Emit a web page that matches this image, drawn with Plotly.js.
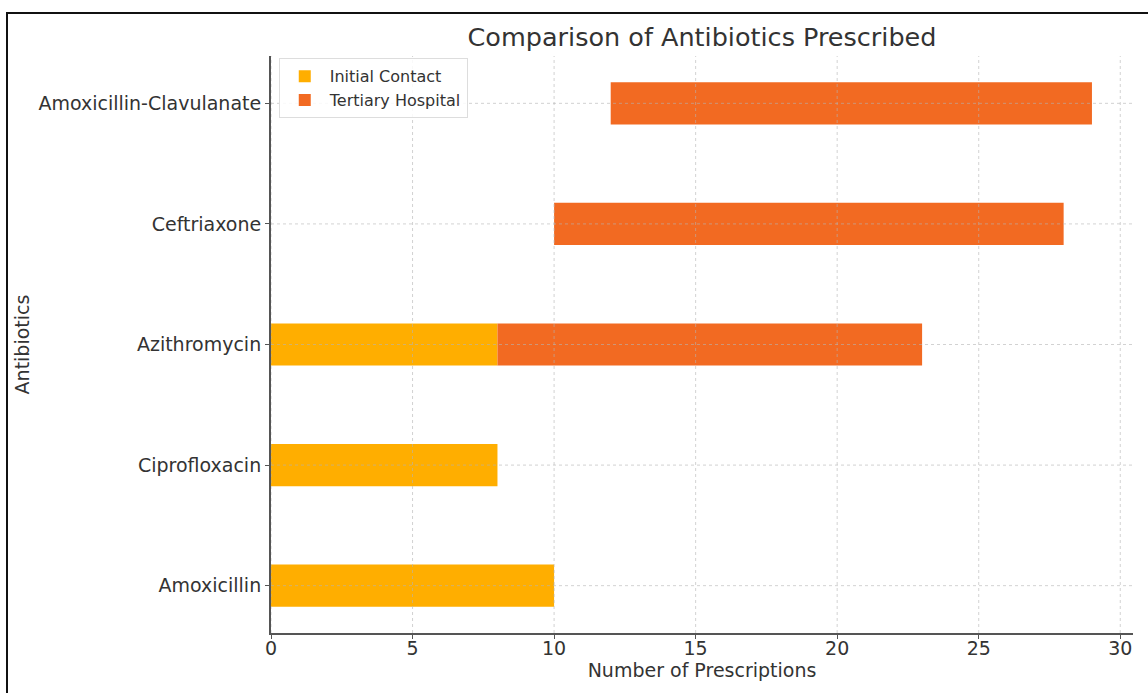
<!DOCTYPE html>
<html>
<head>
<meta charset="utf-8">
<script src="https://cdn.plot.ly/plotly-3.0.1.min.js"></script>
<style>
  html, body { margin: 0; padding: 0; background: #fff; }
  #chart { width: 1148px; height: 693px; position: absolute; left: 0; top: 0; }
  #frame { position: absolute; left: 6px; top: 12px; width: 1148px; height: 700px;
           border-left: 2px solid #111; border-top: 2px solid #111; pointer-events: none; }
</style>
</head>
<body>
<div id="chart"></div>
<div id="frame"></div>
<script>
const categories = ["Amoxicillin", "Ciprofloxacin", "Azithromycin", "Ceftriaxone", "Amoxicillin-Clavulanate"];
const initialContact = [10, 8, 8, 0, 0];
const tertiaryStart = [0, 0, 8, 10, 12];
const tertiaryHospital = [0, 0, 15, 18, 17];
const xTicks = [0, 5, 10, 15, 20, 25, 30];

const font = "DejaVu Sans, sans-serif";
const gridShapes = [];
xTicks.forEach(v => gridShapes.push({
  type: "line", xref: "x", yref: "paper", x0: v, x1: v, y0: 0, y1: 1,
  line: { color: "rgba(180,180,180,0.6)", width: 1, dash: "dot" }, layer: "above"
}));
categories.forEach(c => gridShapes.push({
  type: "line", xref: "paper", yref: "y", x0: 0, x1: 1, y0: c, y1: c,
  line: { color: "rgba(180,180,180,0.6)", width: 1, dash: "dot" }, layer: "above"
}));

const data = [
  {
    type: "bar", orientation: "h", name: "Initial Contact",
    y: categories, x: initialContact, width: 0.35,
    marker: { color: "#FFAE00", line: { width: 0 } }
  },
  {
    type: "bar", orientation: "h", name: "Tertiary Hospital",
    y: categories, x: tertiaryHospital, base: tertiaryStart, width: 0.35,
    marker: { color: "#F26A22", line: { width: 0 } }
  }
];

const layout = {
  width: 1148, height: 693,
  margin: { l: 271, r: 15, t: 56, b: 60 },
  paper_bgcolor: "rgba(0,0,0,0)", plot_bgcolor: "rgba(0,0,0,0)",
  barmode: "overlay",
  showlegend: true,
  font: { family: font, color: "#333" },
  title: {
    text: "Comparison of Antibiotics Prescribed",
    font: { family: font, size: 25.5, color: "#333" },
    x: 0.6115, xanchor: "center", y: 0.947, yanchor: "middle"
  },
  xaxis: {
    range: [0, 30.45], tickvals: xTicks, ticktext: xTicks.map(String),
    showgrid: false, zeroline: false,
    showline: true, linecolor: "#555", linewidth: 2,
    ticks: "outside", ticklen: 4, tickwidth: 1, tickcolor: "#555",
    ticklabelstandoff: -7,
    tickfont: { family: font, size: 19, color: "#333" },
    title: { text: "Number of Prescriptions", font: { family: font, size: 19, color: "#333" }, standoff: 2 }
  },
  yaxis: {
    range: [-0.3925, 4.3925], type: "category",
    categoryorder: "array", categoryarray: categories,
    showgrid: false, zeroline: false,
    showline: true, linecolor: "#555", linewidth: 2,
    ticks: "outside", ticklen: 4, tickwidth: 1, tickcolor: "#555",
    tickfont: { family: font, size: 19, color: "#333" },
    title: { text: "Antibiotics", font: { family: font, size: 19, color: "#333" }, standoff: 4 }
  },
  legend: {
    x: 0.009, y: 0.996, xanchor: "left", yanchor: "top",
    bgcolor: "rgba(255,255,255,0.85)", bordercolor: "#ddd", borderwidth: 1,
    font: { family: font, size: 16, color: "#333" },
    traceorder: "normal", tracegroupgap: 0, itemwidth: 40
  },
  shapes: gridShapes
};

Plotly.newPlot("chart", data, layout, { displayModeBar: false, staticPlot: true });
</script>
</body>
</html>
